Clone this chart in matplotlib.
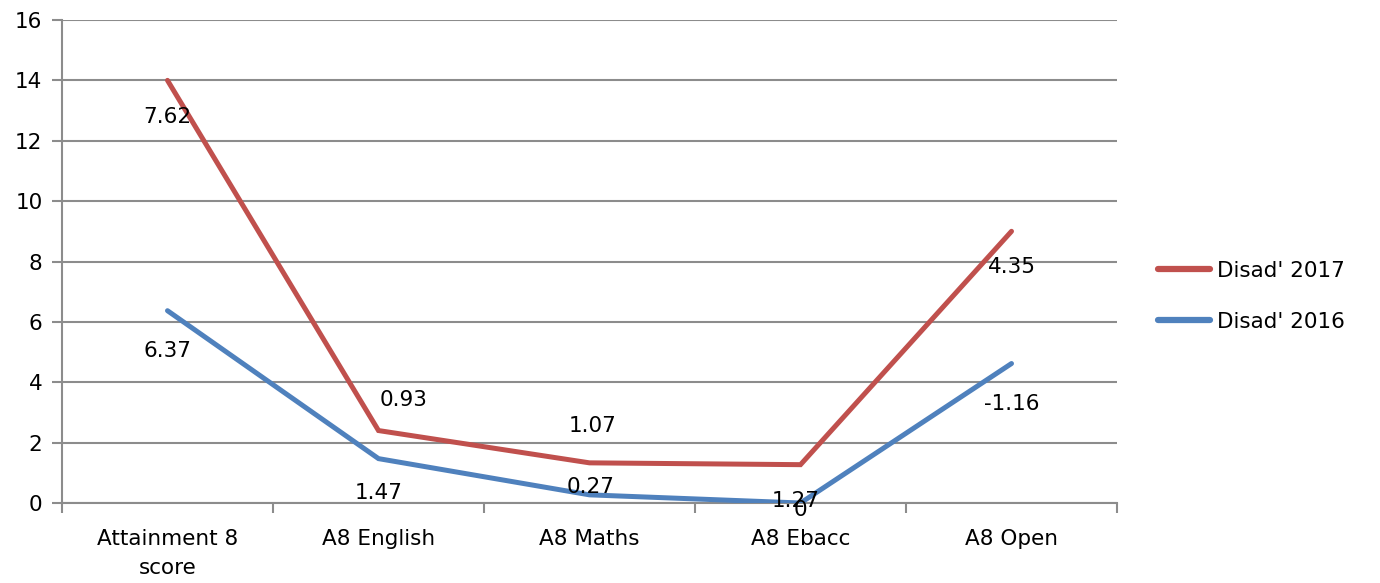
import matplotlib
matplotlib.use('Agg')
import matplotlib.pyplot as plt
import numpy as np

categories = ['Attainment 8\nscore', 'A8 English', 'A8 Maths', 'A8 Ebacc', 'A8 Open']
disad_2017 = [14.0, 2.4, 1.33, 1.27, 9.0]
disad_2016 = [6.37, 1.47, 0.27, 0.0, 4.62]
labels_2017 = ['7.62', '0.93', '1.07', '1.27', '4.35']
labels_2016 = ['6.37', '1.47', '0.27', '0', '-1.16']

# label offsets in pixels (dx, dy) relative to each point
off_2017 = [(0, -37), (25, 31), (3, 37), (-5, -36), (0, -36)]
off_2016 = [(0, -40), (0, -34), (1, 8), (0, -7), (0, -40)]

RED = '#c0504d'
BLUE = '#4f81bd'
GRID = '#8c8c8c'
FONT = 'DejaVu Sans'
FS = 15.5

plt.rcParams['font.family'] = FONT

fig = plt.figure(figsize=(13.8, 5.83), dpi=100)
ax = fig.add_axes([62/1380, 80/583, (1117-62)/1380, (503-20)/583])

x = np.arange(len(categories))
ax.plot(x, disad_2017, color=RED, lw=3.6, solid_capstyle='round', solid_joinstyle='miter', label="Disad' 2017", zorder=3)
ax.plot(x, disad_2016, color=BLUE, lw=3.6, solid_capstyle='round', solid_joinstyle='miter', label="Disad' 2016", zorder=3)

px = 0.72  # points per pixel at 100 dpi
for xi, yi, t, (dx, dy) in zip(x, disad_2017, labels_2017, off_2017):
    ax.annotate(t, (xi, yi), xytext=(dx*px, dy*px), textcoords='offset points',
                ha='center', va='center', fontsize=FS, zorder=4)
for xi, yi, t, (dx, dy) in zip(x, disad_2016, labels_2016, off_2016):
    ax.annotate(t, (xi, yi), xytext=(dx*px, dy*px), textcoords='offset points',
                ha='center', va='center', fontsize=FS, zorder=4)

ax.set_xlim(-0.5, len(categories) - 0.5)
ax.set_ylim(0, 16)
ax.set_yticks(np.arange(0, 17, 2))
ax.yaxis.grid(True, color=GRID, lw=1.5)
ax.set_axisbelow(True)

ax.set_xticks(x)
ax.set_xticklabels(categories, fontsize=FS, linespacing=1.55)
ax.set_xticks(np.arange(-0.5, len(categories)), minor=True)
ax.tick_params(axis='x', which='major', length=0, pad=19)
ax.tick_params(axis='x', which='minor', length=7, width=1.5, color=GRID, direction='out')
ax.tick_params(axis='y', length=7, width=1.5, color=GRID, labelsize=FS, pad=7)

for s in ['top', 'right']:
    ax.spines[s].set_visible(False)
for s in ['left', 'bottom']:
    ax.spines[s].set_color(GRID)
    ax.spines[s].set_linewidth(1.5)

leg = ax.legend(loc='center left', bbox_to_anchor=(1.039, 0.428), frameon=False,
                fontsize=FS, handlelength=2.4, handletextpad=0.35, labelspacing=1.45,
                borderaxespad=0.0, borderpad=0.0)
for h in leg.get_lines():
    h.set_linewidth(4.5)

fig.savefig('out.png', dpi=100)
